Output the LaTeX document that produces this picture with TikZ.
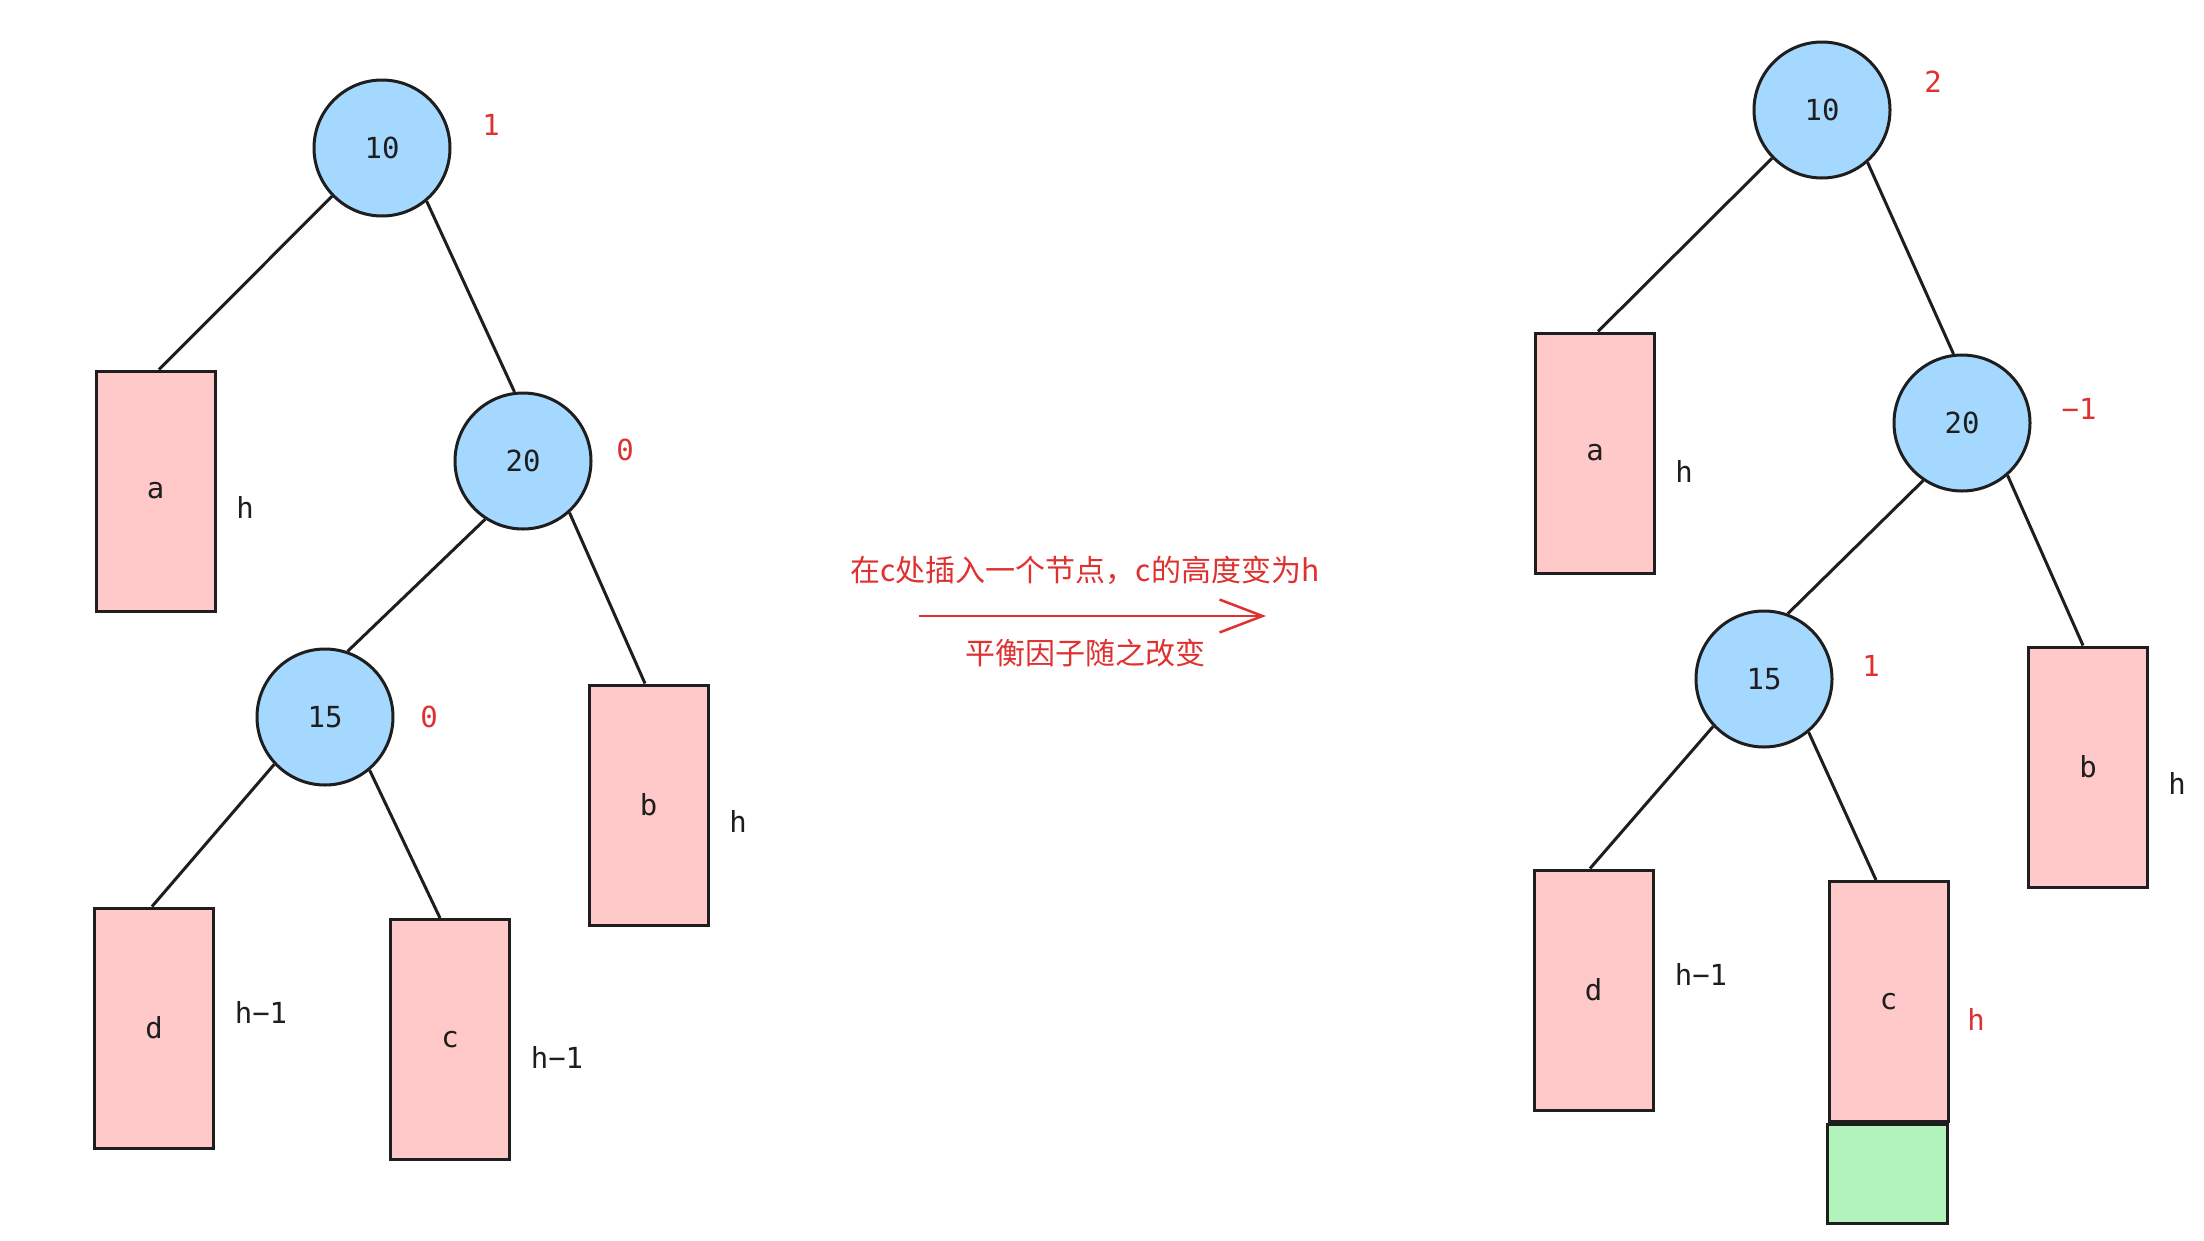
\documentclass[tikz,border=0pt]{standalone}
\usepackage{fontspec}
\setmainfont{DejaVu Sans Mono}
\newfontfamily\cjk{Noto Sans CJK SC}
\usetikzlibrary{arrows.meta}
\definecolor{ink}{HTML}{1E1E1E}
\definecolor{nodeblue}{HTML}{A5D8FF}
\definecolor{boxpink}{HTML}{FFC9C9}
\definecolor{boxgreen}{HTML}{B2F2BB}
\definecolor{bfred}{HTML}{E03131}
\tikzset{
  treenode/.style={circle,draw=ink,fill=nodeblue,line width=3pt,minimum size=136pt,inner sep=0pt,text=ink,font=\fontsize{29}{31}\selectfont},
  subtree/.style={rectangle,draw=ink,fill=boxpink,line width=3pt,minimum width=119pt,minimum height=240pt,inner sep=0pt,text=ink,font=\fontsize{29}{31}\selectfont},
  newbox/.style={rectangle,draw=ink,fill=boxgreen,line width=3pt,minimum width=120pt,minimum height=99pt,inner sep=0pt},
  heightlbl/.style={text=ink,font=\fontsize{29}{31}\selectfont,inner sep=0pt},
  bflbl/.style={text=bfred,font=\fontsize{29}{31}\selectfont,inner sep=0pt},
  edge/.style={draw=ink,line width=3pt},
  note/.style={text=bfred,font=\cjk\fontsize{30}{32}\selectfont,inner sep=0pt}
}
\begin{document}
\begin{tikzpicture}[x=1pt,y=-1pt]
\useasboundingbox (0,0) rectangle (2204,1240);
\fill[white] (0,0) rectangle (2204,1240);
% ---------- left tree ----------
\node[treenode] (L10) at (382,148) {10};
\node[treenode] (L20) at (523,461) {20};
\node[treenode] (L15) at (325,717) {15};
\node[subtree] (La) at (155.5,491) {a};
\node[subtree] (Lb) at (648.5,805) {b};
\node[subtree] (Ld) at (154,1028) {d};
\node[subtree] (Lc) at (450,1039.5) {c};
\node[bflbl] (L10bf) at (491,125) {1};
\node[bflbl] (L20bf) at (625,450) {0};
\node[bflbl] (L15bf) at (429,717) {0};
\node[heightlbl] (Lah) at (245,507) {h};
\node[heightlbl] (Lbh) at (738,821) {h};
\node[heightlbl] (Ldh) at (261,1012) {h−1};
\node[heightlbl] (Lch) at (557,1057) {h−1};
\coordinate (LaT) at ([xshift=3.5pt]La.north);
\coordinate (LbT) at ([xshift=-3.5pt]Lb.north);
\coordinate (LdT) at ([xshift=-2pt]Ld.north);
\coordinate (LcT) at ([xshift=-10pt]Lc.north);
\draw[edge] (L10.-136) -- (LaT);
\draw[edge] (L10.-50) -- (L20.97);
\draw[edge] (L20.-123) -- (L15.71);
\draw[edge] (L20.-48) -- (LbT);
\draw[edge] (L15.-137) -- (LdT);
\draw[edge] (L15.-50) -- (LcT);
% ---------- middle arrow ----------
\coordinate (arrS) at (919,616);
\coordinate (arrE) at (1266,616);
\draw[draw=bfred,line width=2.5pt,-{Straight Barb[length=43pt,width=33pt,line width=2.5pt]}] (arrS) -- (arrE);
\node[note] (noteTop) at (1085,570) {在c处插入一个节点，c的高度变为h};
\node[note] (noteBot) at (1085,653) {平衡因子随之改变};
% ---------- right tree ----------
\node[treenode] (R10) at (1822,110) {10};
\node[treenode] (R20) at (1962,423) {20};
\node[treenode] (R15) at (1764,679) {15};
\node[subtree] (Ra) at (1595,453) {a};
\node[subtree] (Rb) at (2088,767) {b};
\node[subtree] (Rd) at (1593.5,990) {d};
\node[subtree] (Rc) at (1888.5,1001.5) {c};
\node[newbox] (Rnew) at (1887,1173.5) {};
\node[bflbl] (R10bf) at (1933,82) {2};
\node[bflbl] (R20bf) at (2079,409) {−1};
\node[bflbl] (R15bf) at (1871,666) {1};
\node[heightlbl] (Rah) at (1684,471) {h};
\node[heightlbl] (Rbh) at (2177,783) {h};
\node[heightlbl] (Rdh) at (1701,974) {h−1};
\node[bflbl] (Rch) at (1976,1019) {h};
\coordinate (RaT) at ([xshift=3pt]Ra.north);
\coordinate (RbT) at ([xshift=-5pt]Rb.north);
\coordinate (RdT) at ([xshift=-3.5pt]Rd.north);
\coordinate (RcT) at ([xshift=-12.5pt]Rc.north);
\draw[edge] (R10.-136) -- (RaT);
\draw[edge] (R10.-49) -- (R20.97);
\draw[edge] (R20.-124) -- (R15.70);
\draw[edge] (R20.-49) -- (RbT);
\draw[edge] (R15.-137) -- (RdT);
\draw[edge] (R15.-50) -- (RcT);
\end{tikzpicture}
\end{document}
